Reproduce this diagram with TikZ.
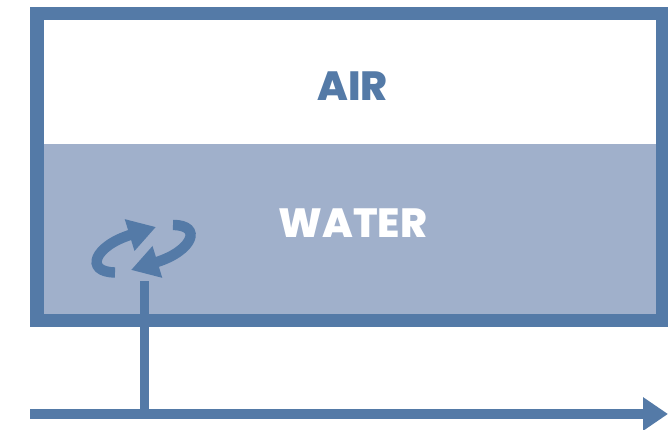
\documentclass[tikz,border=0pt]{standalone}
\usepackage{fontspec}
\setmainfont{Poppins}[BoldFont={Poppins ExtraBold}]
\usetikzlibrary{arrows.meta}
\definecolor{cFrame}{HTML}{547aa7}
\definecolor{cWater}{HTML}{a0b0cb}
\tikzset{
  tank/.style={draw=cFrame, line width=0.34cm},
  axisline/.style={-{Triangle[length=0.625cm,width=0.8cm]}, draw=cFrame, line width=0.26cm},
  stemline/.style={draw=cFrame, line width=0.235cm},
  swirl/.style={-{Triangle[length=0.69cm,width=0.78cm]}, draw=cFrame, line width=0.26cm},
  label/.style={font=\fontsize{29}{29}\selectfont\bfseries, inner sep=0pt},
}

\begin{document}
\begin{tikzpicture}
\useasboundingbox (0,0) rectangle (16.7,10.75);

% ===================== tank =====================
\fill[cWater] (0.925,2.7375) rectangle (16.5625,7.15);
\draw[tank] (0.925,2.7375) rectangle (16.5625,10.4125);
\node[label, text=cFrame] (air) at (8.81,8.5875) {AIR};
\node[label, text=white] (water) at (8.825,5.1625) {WATER};

% ===================== axis and stem =====================
\coordinate (axisstart) at (0.75,0.4);
\coordinate (axisend) at (16.7,0.4);
\coordinate (stemfoot) at (3.6125,0.4);
\coordinate (stemtop) at (3.6125,3.725);
\draw[axisline] (axisstart) -- (axisend);
\draw[stemline] (stemfoot) -- (stemtop);

% ===================== exchange arrows =====================
\draw[swirl] (2.875,3.9375) .. controls (2.1,3.95) and (2.35,4.6) .. (3.9,5.075);
\draw[swirl] (4.325,5.125) .. controls (5.075,5.125) and (4.825,4.475) .. (3.275,4.0);

\end{tikzpicture}
\end{document}
